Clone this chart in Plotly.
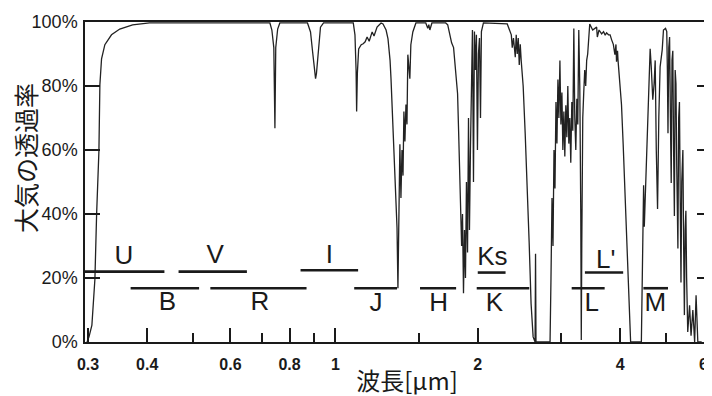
import numpy as np
import plotly.graph_objects as go

# ---- atmospheric transmittance curve (wavelength in micron, transmittance in %) ----
wl_uv = [0.2984, 0.3013, 0.3056, 0.3101, 0.3127, 0.3162, 0.3177, 0.3203, 0.3255, 0.3362,
         0.350, 0.3726, 0.4046, 0.55]
tr_uv = [0, 1.6, 5.3, 19.6, 40, 59.6, 80.4, 88.5, 92.9, 96, 97.8, 99.1, 99.7, 99.7]

wl_vis = [0.727, 0.734, 0.741, 0.745, 0.748, 0.755, 0.763, 0.873, 0.886, 0.895, 0.903, 0.908,
          0.912, 0.921, 0.930, 0.944, 1.091]
tr_vis = [99.7, 97.5, 92, 66.8, 92, 97.8, 99.7, 99.7, 96.9, 90.7, 83.9, 82.3,
          83.9, 92.2, 98.4, 99.7, 99.7]

wl_j = [1.100, 1.106, 1.109, 1.113, 1.120, 1.134, 1.145, 1.156, 1.167, 1.179, 1.196, 1.207,
        1.225, 1.237, 1.249, 1.261, 1.280, 1.292, 1.305, 1.311, 1.324, 1.337, 1.350, 1.356,
        1.363, 1.369, 1.376, 1.383, 1.390, 1.396, 1.403, 1.410, 1.417, 1.423, 1.437, 1.444,
        1.458, 1.473, 1.480]
tr_j = [96, 85, 72, 84, 91.6, 92.9, 93.2, 93.8, 95.3, 94, 96.9, 95.6,
        98.4, 99.1, 99.7, 99.4, 97.5, 94.7, 88, 82.3, 66.8, 51.2, 35.7, 16.8,
        41.9, 61.8, 45.0, 60, 52, 72.0, 62.7, 74.2, 68, 89.8, 82.3, 92.9,
        96.9, 99.1, 99.7]

wl_h = [1.553, 1.568, 1.576, 1.584, 1.600, 1.711, 1.728, 1.744, 1.761, 1.778, 1.796, 1.813,
        1.822, 1.831, 1.840, 1.849, 1.857, 1.862, 1.866, 1.875, 1.884, 1.893, 1.903, 1.912,
        1.921, 1.930, 1.940, 1.949, 1.959, 1.968, 1.978, 1.987, 1.997, 2.007, 2.017, 2.027,
        2.036, 2.046, 2.056]
tr_h = [99.7, 98, 99.2, 97.5, 99.7, 99.7, 99.1, 96, 93.5, 92, 85, 77.6,
        66, 55, 45, 30, 40, 20, 15.2, 35, 20, 50, 28, 70,
        35, 60, 90, 97.5, 50, 97, 85, 96, 60, 90, 95, 70,
        97, 99, 99.7]

wl_k = [2.309, 2.343, 2.355, 2.366, 2.380, 2.401, 2.412, 2.424, 2.436, 2.448, 2.460, 2.471,
        2.495, 2.520, 2.544, 2.569, 2.593, 2.619, 2.644, 2.650, 2.656, 2.844]
tr_k = [99.4, 97, 96, 92, 95, 89, 96, 90, 95, 86.6, 93, 88,
        80, 65, 50, 31, 12, 1.6, 0, 27.6, 0, 0]

wl_l = [2.857, 2.871, 2.885, 2.899, 2.913, 2.927, 2.941, 2.955, 2.969, 2.984, 2.998, 3.013,
        3.027, 3.042, 3.056, 3.071, 3.086, 3.101, 3.116, 3.131, 3.146, 3.162, 3.177, 3.193,
        3.208, 3.224, 3.240, 3.255, 3.271, 3.287, 3.303, 3.311, 3.319, 3.335, 3.351, 3.367,
        3.383, 3.399, 3.416, 3.433, 3.450, 3.50, 3.568, 3.58, 3.61, 3.656, 3.69, 3.72,
        3.745, 3.78, 3.81, 3.837, 3.87, 3.90, 3.92, 3.931, 3.95, 3.96, 3.99, 4.027,
        4.06, 4.09, 4.126, 4.16, 4.19, 4.21, 4.436]
tr_l = [20, 45, 30, 60, 48, 75, 62, 82, 70, 88, 68, 78,
        60, 72, 58, 74, 64, 80, 62, 70, 56, 75, 66, 98,
        70, 60, 76, 68, 97.5, 80, 40, 0.6, 30, 70, 78, 85,
        80, 88, 90, 95, 99.4, 97.5, 98.4, 95.3, 97.5, 96.3, 97, 95.9,
        96.6, 96, 96, 94.5, 93, 89.8, 93, 87.6, 91, 88, 82.3, 74.2,
        61.8, 49.4, 35.7, 20, 4.7, 0, 0]

wl_m = [4.47, 4.485, 4.50, 4.544, 4.59, 4.63, 4.655, 4.69, 4.72, 4.745, 4.77, 4.80,
        4.83, 4.86, 4.91, 4.94, 4.99, 5.02, 5.035, 5.05, 5.07, 5.09, 5.11, 5.13,
        5.15, 5.17, 5.19, 5.21, 5.23, 5.25, 5.27, 5.30, 5.32, 5.34, 5.36, 5.38,
        5.40, 5.43, 5.45, 5.47, 5.49, 5.51, 5.53, 5.56, 5.61, 5.65, 5.70, 5.75,
        5.79, 5.84, 5.95]
tr_m = [35, 49, 36, 55, 78, 91.6, 86, 75.7, 80.7, 88, 60.2, 41.6,
        70.5, 86, 91.3, 97.5, 98, 97, 85, 65.2, 92, 95.3, 70, 49.7,
        88, 91, 60, 39.4, 85, 80.7, 55, 29.2, 70, 75, 45, 18.6,
        50, 60, 30, 8.4, 35, 41, 20, 3.1, 11.5, 2, 10, 0,
        14.6, 0, 0]

wavelength = wl_uv + wl_vis + wl_j + wl_h + wl_k + wl_l + wl_m
transmittance = tr_uv + tr_vis + tr_j + tr_h + tr_k + tr_l + tr_m

# ---- photometric bands ----
band_names = ["U", "V", "I", "B", "R", "J", "H", "Ks", "K", "L'", "L", "M"]
band_start = [0.2955, 0.466, 0.844, 0.369, 0.544, 1.096, 1.51, 2.00, 1.99, 3.37, 3.16, 4.48]
band_end = [0.435, 0.650, 1.117, 0.515, 0.869, 1.35, 1.80, 2.29, 2.57, 4.06, 3.71, 5.05]
band_level = [22, 22, 22.4, 16.8, 16.8, 16.8, 16.8, 21.7, 16.8, 21.7, 16.8, 16.8]
label_x = [0.357, 0.557, 0.971, 0.4416, 0.692, 1.219, 1.654, 2.148, 2.168, 3.73, 3.483, 4.746]
label_y = [26.4, 26.6, 26.8, 12.1, 12.1, 11.8, 11.8, 26.2, 11.8, 25.3, 11.8, 11.8]

x_tick_vals = [0.3, 0.4, 0.6, 0.8, 1, 2, 4, 6]
x_tick_text = ["0.3", "0.4", "0.6", "0.8", "1", "2", "4", "6"]
x_minor_vals = [0.5, 0.7, 0.9, 1.5, 3, 5]
y_tick_vals = [0, 20, 40, 60, 80, 100]
y_tick_text = ["0%", "20%", "40%", "60%", "80%", "100%"]

INK = "#1a1a1a"
fig = go.Figure()

fig.add_trace(go.Scatter(x=wavelength, y=transmittance, mode="lines",
                         line=dict(color="#222222", width=1.3),
                         showlegend=False, hoverinfo="skip"))

for name, s, e, lv in zip(band_names, band_start, band_end, band_level):
    fig.add_trace(go.Scatter(x=[s, e], y=[lv, lv], mode="lines",
                             line=dict(color=INK, width=2.6),
                             showlegend=False, hoverinfo="skip"))

fig.add_trace(go.Scatter(x=label_x, y=label_y, mode="text", text=band_names,
                         textfont=dict(family="Liberation Sans, Arial", size=26, color=INK),
                         showlegend=False, hoverinfo="skip"))

# invisible trace so the right-side tick axis is drawn
fig.add_trace(go.Scatter(x=[1], y=[50], yaxis="y2", mode="markers",
                         marker=dict(opacity=0), showlegend=False, hoverinfo="skip"))

# page body has an 8px margin, so the figure is 8px smaller and left/top margins are reduced
fig.update_layout(
    width=704, height=388,
    margin=dict(l=77, r=4, t=12, b=54),
    paper_bgcolor="white", plot_bgcolor="white",
    font=dict(family="Liberation Sans, Arial", color=INK),
    xaxis=dict(type="log", range=[np.log10(0.2955), np.log10(6.018)],
               tickmode="array", tickvals=x_tick_vals, ticktext=x_tick_text,
               ticks="inside", ticklen=14, tickwidth=1.5, tickcolor=INK,
               minor=dict(tickmode="array", tickvals=x_minor_vals, ticks="inside",
                          ticklen=9, tickwidth=1.5, tickcolor=INK, showgrid=False),
               tickfont=dict(size=16, family="Liberation Sans, Arial", color=INK,
                             weight="bold"),
               ticklabelstandoff=7,
               showgrid=False, zeroline=False, showline=True, linecolor=INK,
               linewidth=1.5, mirror=True),
    yaxis=dict(range=[0, 100], tickmode="array", tickvals=y_tick_vals, ticktext=y_tick_text,
               ticks="inside", ticklen=15, tickwidth=1.5, tickcolor=INK,
               tickfont=dict(size=18, family="Liberation Sans, Arial", color=INK),
               ticklabelstandoff=2,
               showgrid=False, zeroline=False, showline=True, linecolor=INK,
               linewidth=1.5, mirror=True),
    yaxis2=dict(range=[0, 100], overlaying="y", side="right", anchor="x",
                tickmode="array", tickvals=[20, 40, 60, 80], ticks="inside",
                ticklen=7, tickwidth=1.5, tickcolor=INK, showticklabels=False,
                showgrid=False, zeroline=False, showline=False),
    annotations=[
        dict(text="大気の透過率", xref="paper", yref="paper", x=-0.097, y=0.575,
             textangle=-90, showarrow=False, xanchor="center", yanchor="middle",
             width=190, height=28, align="center",
             font=dict(family="Noto Sans CJK JP", size=25, color=INK)),
        dict(text="波長[μm]", xref="paper", yref="paper", x=0.52, y=-0.115,
             showarrow=False, xanchor="center", yanchor="middle",
             width=150, height=34, align="center",
             font=dict(family="Noto Sans CJK JP", size=24, color=INK)),
    ],
)

fig.write_html("out.html")
